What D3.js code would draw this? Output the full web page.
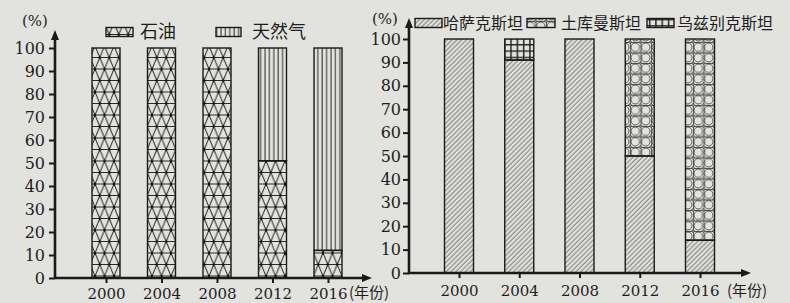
<!DOCTYPE html>
<html lang="zh">
<head>
<meta charset="utf-8">
<title>石油 天然气 出口构成</title>
<script src="https://cdn.jsdelivr.net/npm/d3@7"></script>
<style>
  body { margin: 0; background: #e2e2df; }
  svg { display: block; }
  .num { font-family: "DejaVu Serif", "Liberation Serif", serif; font-size: 15px; fill: #1e1e1e; }
  .ynum { font-size: 16px; }
  .cjk { font-family: "Noto Sans CJK SC", sans-serif; fill: #1e1e1e; }
</style>
</head>
<body>
<script>
// data
var years = ["2000", "2004", "2008", "2012", "2016"];
var oil = [100, 100, 100, 51, 12];
var gas = [0, 0, 0, 49, 88];
var kaz = [100, 91, 100, 50, 14];
var turk = [0, 0, 0, 50, 86];
var uzb = [0, 9, 0, 0, 0];
var yTicks = [0, 10, 20, 30, 40, 50, 60, 70, 80, 90, 100];
var leftNames = ["石油", "天然气"];
var rightNames = ["哈萨克斯坦", "土库曼斯坦", "乌兹别克斯坦"];

var w = 790, h = 303;
var ink = "#1a1a1a";

var svg = d3.select("body").append("svg").attr("width", w).attr("height", h);
var defs = svg.append("defs");

// ---- fill patterns ----
// oil: triangle lattice
var tw = 9.5, th = 11.5;
var pOil = defs.append("pattern").attr("id", "p-oil").attr("patternUnits", "userSpaceOnUse")
  .attr("width", tw).attr("height", th * 2);
[[0, 0, tw, 0], [0, th, tw, th], [0, th * 2, tw, th * 2],
 [0, 0, tw / 2, th], [tw / 2, th, 0, th * 2], [tw, 0, tw / 2, th], [tw / 2, th, tw, th * 2]]
  .forEach(function(l) {
    pOil.append("line").attr("x1", l[0]).attr("y1", l[1]).attr("x2", l[2]).attr("y2", l[3])
      .attr("stroke", "#2a2a2a").attr("stroke-width", 1);
  });
[[0, 0], [tw, 0], [tw / 2, th], [0, th * 2], [tw, th * 2]].forEach(function(p) {
  pOil.append("circle").attr("cx", p[0]).attr("cy", p[1]).attr("r", 1.3).attr("fill", "#111");
});

// gas: vertical lines
var pGas = defs.append("pattern").attr("id", "p-gas").attr("patternUnits", "userSpaceOnUse")
  .attr("width", 4.4).attr("height", 10);
pGas.append("line").attr("x1", 1).attr("x2", 1).attr("y1", 0).attr("y2", 10)
  .attr("stroke", "#2a2a2a").attr("stroke-width", 1);

// kazakhstan: diagonal hatch
var pKaz = defs.append("pattern").attr("id", "p-kaz").attr("patternUnits", "userSpaceOnUse")
  .attr("width", 3.4).attr("height", 10).attr("patternTransform", "rotate(45)");
pKaz.append("line").attr("x1", 1).attr("x2", 1).attr("y1", 0).attr("y2", 10)
  .attr("stroke", "#555").attr("stroke-width", 0.8);

// turkmenistan: grid with circles
var cs = 10.5;
var pTurk = defs.append("pattern").attr("id", "p-turk").attr("patternUnits", "userSpaceOnUse")
  .attr("width", cs).attr("height", cs);
pTurk.append("path").attr("d", "M0,0H" + cs + "M0,0V" + cs)
  .attr("stroke", "#222").attr("stroke-width", 1.3).attr("fill", "none");
pTurk.append("circle").attr("cx", cs / 2).attr("cy", cs / 2).attr("r", 4.3)
  .attr("fill", "none").attr("stroke", "#333").attr("stroke-width", 0.8);
[[0, 0], [cs, 0], [0, cs], [cs, cs]].forEach(function(p) {
  pTurk.append("circle").attr("cx", p[0]).attr("cy", p[1]).attr("r", 1.2)
    .attr("fill", "#e8e8e6").attr("stroke", "#222").attr("stroke-width", 0.8);
});

// uzbekistan: fine grid
var pUzb = defs.append("pattern").attr("id", "p-uzb").attr("patternUnits", "userSpaceOnUse")
  .attr("width", 6.3).attr("height", 6.3);
pUzb.append("path").attr("d", "M0,0.7H6.3M0.7,0V6.3")
  .attr("stroke", "#222").attr("stroke-width", 1.5).attr("fill", "none");

// ---- one panel ----
function panel(cfg) {
  var g = svg.append("g");
  var y = d3.scaleLinear().domain([0, 100]).range([cfg.y0, cfg.y100]);
  var x = d3.scalePoint().domain(years).range([cfg.c0, cfg.c1]);

  var table = years.map(function(yr, i) {
    var row = { year: yr };
    cfg.series.forEach(function(s) { row[s.key] = s.values[i]; });
    return row;
  });
  var stack = d3.stack().keys(cfg.series.map(function(s) { return s.key; }))(table);

  stack.forEach(function(layer, li) {
    g.selectAll(null).data(layer.filter(function(d) { return d[1] - d[0] > 0; }))
      .enter().append("rect")
      .attr("x", function(d) { return x(d.data.year) - cfg.bw / 2; })
      .attr("y", function(d) { return y(d[1]); })
      .attr("width", cfg.bw)
      .attr("height", function(d) { return y(d[0]) - y(d[1]); })
      .attr("fill", "url(#" + cfg.series[li].pat + ")")
      .attr("stroke", ink).attr("stroke-width", 1.4);
  });

  // y axis
  var ya = g.append("g").attr("transform", "translate(" + cfg.x0 + ",0)")
    .call(d3.axisLeft(y).tickValues(yTicks).tickSize(6).tickPadding(cfg.ypad));
  ya.select(".domain").remove();
  ya.selectAll(".tick line").attr("stroke", ink).attr("stroke-width", 2);
  ya.selectAll(".tick text").attr("class", "num ynum").attr("font-size", null).attr("font-family", null);

  // x axis
  var xa = g.append("g").attr("transform", "translate(0," + cfg.y0 + ")")
    .call(d3.axisBottom(x).tickSize(5).tickPadding(cfg.xpad));
  xa.select(".domain").remove();
  xa.selectAll(".tick line").attr("stroke", ink).attr("stroke-width", 2);
  xa.selectAll(".tick text").attr("class", "num").attr("font-size", null).attr("font-family", null);

  // axis lines with arrow heads
  g.append("path").attr("d", "M" + cfg.x0 + "," + (cfg.y0 + 1) + "V" + (cfg.ytip + 6))
    .attr("stroke", ink).attr("stroke-width", 2.6);
  g.append("path").attr("d", "M" + (cfg.x0 - 4) + "," + (cfg.ytip + 10) + "L" + cfg.x0 + "," + cfg.ytip + "L" + (cfg.x0 + 4) + "," + (cfg.ytip + 10) + "Z")
    .attr("fill", ink);
  g.append("path").attr("d", "M" + (cfg.x0 - 1) + "," + cfg.y0 + "H" + (cfg.xtip - 6))
    .attr("stroke", ink).attr("stroke-width", 2.6);
  g.append("path").attr("d", "M" + (cfg.xtip - 10) + "," + (cfg.y0 - 4) + "L" + cfg.xtip + "," + cfg.y0 + "L" + (cfg.xtip - 10) + "," + (cfg.y0 + 4) + "Z")
    .attr("fill", ink);

  g.append("text").attr("class", "num").attr("x", cfg.pctX).attr("y", cfg.pctY)
    .attr("font-size", 18).attr("dy", "0.35em").text("(%)");
  g.append("text").attr("class", "cjk").attr("x", cfg.unitX).attr("y", cfg.unitY)
    .attr("font-size", 15).attr("dy", "0.35em").text("(年份)");

  // legend
  cfg.legend.forEach(function(l, i) {
    g.append("rect").attr("x", l.bx).attr("y", cfg.ly - 4.5).attr("width", l.bw).attr("height", 9)
      .attr("fill", "url(#" + cfg.series[i].pat + ")").attr("stroke", ink).attr("stroke-width", 1.4);
    g.append("text").attr("class", "cjk").attr("x", l.tx).attr("y", cfg.ly)
      .attr("dy", "0.35em").attr("font-size", cfg.lfs).text(cfg.names[i]);
  });
}

panel({
  x0: 55, y0: 278, y100: 48, ytip: 30, xtip: 372,
  c0: 106, c1: 328, bw: 28, ypad: 4, xpad: 5,
  series: [{ key: "oil", values: oil, pat: "p-oil" }, { key: "gas", values: gas, pat: "p-gas" }],
  names: leftNames,
  legend: [{ bx: 106, bw: 27, tx: 140 }, { bx: 216, bw: 25, tx: 252 }],
  ly: 32, lfs: 18,
  pctX: 22, pctY: 21, unitX: 349, unitY: 293
});

panel({
  x0: 409, y0: 273, y100: 39, ytip: 18, xtip: 751,
  c0: 459, c1: 700, bw: 29, ypad: 2, xpad: 7,
  series: [{ key: "kaz", values: kaz, pat: "p-kaz" }, { key: "turk", values: turk, pat: "p-turk" },
           { key: "uzb", values: uzb, pat: "p-uzb" }],
  names: rightNames,
  legend: [{ bx: 415, bw: 27, tx: 443 }, { bx: 527, bw: 28, tx: 561 }, { bx: 647, bw: 27, tx: 677 }],
  ly: 23, lfs: 16,
  pctX: 372, pctY: 19, unitX: 727, unitY: 291
});
</script>
</body>
</html>
